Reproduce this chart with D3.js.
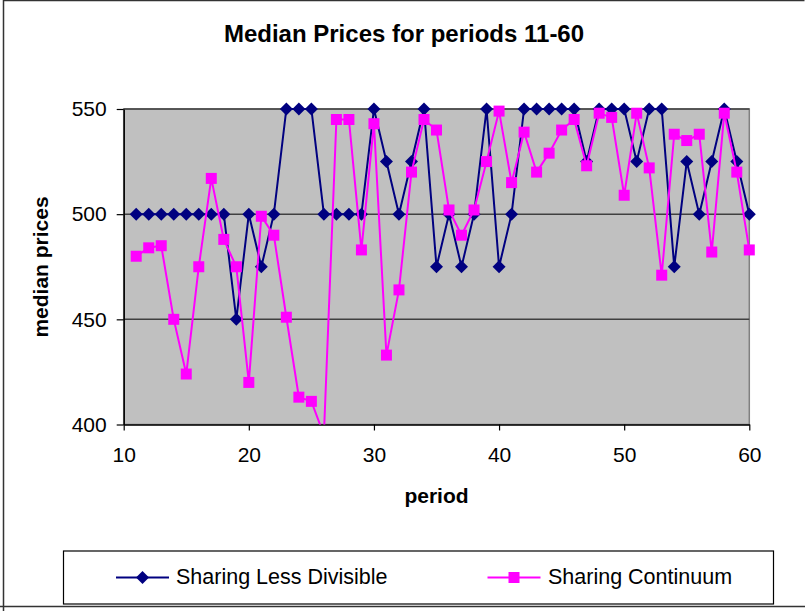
<!DOCTYPE html>
<html>
<head>
<meta charset="utf-8">
<script src="https://cdn.jsdelivr.net/npm/d3@7"></script>
<style>
  body { margin: 0; background: #fff; }
  text { font-family: "Liberation Sans", Arial, sans-serif; fill: #000; }
</style>
</head>
<body>
<svg width="805" height="611"></svg>
<script>
// data
const periods = [11, 12, 13, 14, 15, 16, 17, 18, 19, 20,
  21, 22, 23, 24, 25, 26, 27, 28, 29, 30,
  31, 32, 33, 34, 35, 36, 37, 38, 39, 40,
  41, 42, 43, 44, 45, 46, 47, 48, 49, 50,
  51, 52, 53, 54, 55, 56, 57, 58, 59, 60];
const lessDivisible = [500, 500, 500, 500, 500, 500, 500, 500, 450, 500,
  475, 500, 550, 550, 550, 500, 500, 500, 500, 550,
  525, 500, 525, 550, 475, 500, 475, 500, 550, 475,
  500, 550, 550, 550, 550, 550, 525, 550, 550, 550,
  525, 550, 550, 475, 525, 500, 525, 550, 525, 500];
const continuum = [480, 484, 485, 450, 424, 475, 517, 488, 475, 420,
  499, 490, 451, 413, 411, 395, 545, 545, 483, 543,
  433, 464, 520, 545, 540, 502, 490, 502, 525, 549,
  515, 539, 520, 529, 540, 545, 523, 548, 546, 509,
  548, 522, 471, 538, 535, 538, 482, 548, 520, 483];
const xTicks = [10, 20, 30, 40, 50, 60];
const yTicks = [400, 450, 500, 550];
const seriesNames = ['Sharing Less Divisible', 'Sharing Continuum'];

const series = [
  { name: seriesNames[0], values: lessDivisible, color: '#000080', marker: 'diamond' },
  { name: seriesNames[1], values: continuum, color: '#FF00FF', marker: 'square' }
];

const svg = d3.select('svg');
const plot = { left: 123.7, right: 749.3, top: 109, bottom: 424.5 };

const xScale = d3.scaleLinear().domain([10, 60]).range([plot.left, plot.right]);
const yScale = d3.scaleLinear().domain([400, 550]).range([plot.bottom, plot.top]);

const markerPath = (type) => type === 'diamond'
  ? 'M0,-6.5L6.5,0L0,6.5L-6.5,0Z'
  : 'M-5.5,-5.5H5.5V5.5H-5.5Z';

// outer chart border
svg.append('path')
  .attr('d', 'M3.5,611V0.5H804.5 M0,606.5H805')
  .attr('fill', 'none')
  .attr('stroke', '#333')
  .attr('stroke-width', 1.5);

// title
svg.append('text')
  .attr('x', 404).attr('y', 41.5)
  .attr('text-anchor', 'middle')
  .attr('font-size', 24).attr('font-weight', 'bold')
  .text('Median Prices for periods 11-60');

// plot area
svg.append('rect')
  .attr('x', plot.left).attr('y', plot.top)
  .attr('width', plot.right - plot.left).attr('height', plot.bottom - plot.top)
  .attr('fill', '#C0C0C0')
  .attr('stroke', '#808080').attr('stroke-width', 1.5);

// gridlines
svg.append('g').selectAll('line')
  .data(yTicks.filter(d => d > 400))
  .join('line')
  .attr('x1', plot.left).attr('x2', plot.right)
  .attr('y1', d => yScale(d)).attr('y2', d => yScale(d))
  .attr('stroke', '#404040').attr('stroke-width', 1.5);

// axes
const yAxis = svg.append('g')
  .attr('transform', `translate(${plot.left},0)`)
  .call(d3.axisLeft(yScale).tickValues(yTicks).tickSize(7).tickPadding(10).tickSizeOuter(0));
const xAxis = svg.append('g')
  .attr('transform', `translate(0,${plot.bottom})`)
  .call(d3.axisBottom(xScale).tickValues(xTicks).tickSize(6).tickPadding(17).tickSizeOuter(0));

[yAxis, xAxis].forEach(ax => {
  ax.select('.domain').attr('stroke', '#000').attr('stroke-width', 1.5);
  ax.selectAll('.tick line').attr('stroke', '#000').attr('stroke-width', 1.2);
  ax.selectAll('.tick text')
    .attr('font-family', '"Liberation Sans", Arial, sans-serif')
    .attr('font-size', 21)
    .attr('fill', '#000');
});

// axis titles
svg.append('text')
  .attr('transform', 'translate(47.5,267) rotate(-90)')
  .attr('text-anchor', 'middle')
  .attr('font-size', 21).attr('font-weight', 'bold')
  .text('median prices');

svg.append('text')
  .attr('x', 436.5).attr('y', 503)
  .attr('text-anchor', 'middle')
  .attr('font-size', 21).attr('font-weight', 'bold')
  .text('period');

// clip lines to the plot area
svg.append('clipPath').attr('id', 'plot-clip')
  .append('rect')
  .attr('x', plot.left).attr('y', plot.top - 2)
  .attr('width', plot.right - plot.left).attr('height', plot.bottom - plot.top + 2);

const line = d3.line()
  .x((d, i) => xScale(periods[i]))
  .y(d => yScale(d));

const seriesG = svg.append('g').selectAll('g.series')
  .data(series)
  .join('g')
  .attr('class', 'series');

seriesG.append('path')
  .attr('clip-path', 'url(#plot-clip)')
  .attr('d', d => line(d.values))
  .attr('fill', 'none')
  .attr('stroke', d => d.color)
  .attr('stroke-width', 2);

seriesG.each(function (s) {
  d3.select(this).selectAll('path.marker')
    .data(s.values.map((v, i) => ({ p: periods[i], v })).filter(d => d.v >= 400))
    .join('path')
    .attr('class', 'marker')
    .attr('transform', d => `translate(${xScale(d.p)},${yScale(d.v)})`)
    .attr('d', markerPath(s.marker))
    .attr('fill', s.color);
});

// legend
const legend = svg.append('g');
legend.append('rect')
  .attr('x', 63.5).attr('y', 551)
  .attr('width', 710).attr('height', 53)
  .attr('fill', '#fff')
  .attr('stroke', '#000').attr('stroke-width', 1.2);

const legendItems = [
  { lineX: 116, textX: 176 },
  { lineX: 487.5, textX: 548 }
];

legend.selectAll('g.item')
  .data(series)
  .join('g')
  .attr('class', 'item')
  .attr('transform', (d, i) => `translate(${legendItems[i].lineX},577.5)`)
  .call(g => {
    g.append('line')
      .attr('x1', 0).attr('x2', 53)
      .attr('stroke', d => d.color).attr('stroke-width', 2);
    g.append('path')
      .attr('transform', 'translate(26.5,0)')
      .attr('d', d => markerPath(d.marker))
      .attr('fill', d => d.color);
    g.append('text')
      .attr('x', (d, i) => legendItems[i].textX - legendItems[i].lineX)
      .attr('y', 6)
      .attr('font-size', 21.5)
      .text(d => d.name);
  });
</script>
</body>
</html>
